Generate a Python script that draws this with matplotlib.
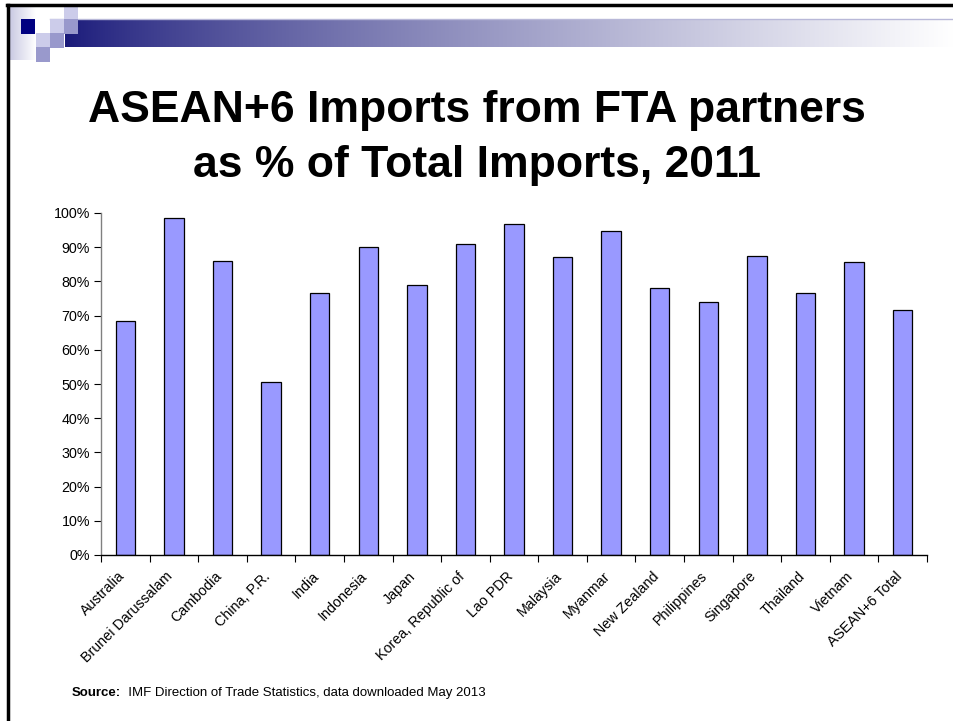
import matplotlib
matplotlib.use("Agg")
import matplotlib.pyplot as plt
import matplotlib.transforms as mtransforms
from matplotlib.patches import Rectangle
from matplotlib.ticker import FixedLocator, PercentFormatter
import numpy as np

plt.rcParams['font.family'] = ['Liberation Sans', 'DejaVu Sans']

countries = ["Australia", "Brunei Darussalam", "Cambodia", "China, P.R.", "India",
             "Indonesia", "Japan", "Korea, Republic of", "Lao PDR", "Malaysia",
             "Myanmar", "New Zealand", "Philippines", "Singapore", "Thailand",
             "Vietnam", "ASEAN+6 Total"]
share = [68.3, 98.5, 86.1, 50.7, 76.5, 90.0, 78.9, 90.9, 96.9, 87.0,
         94.7, 78.0, 74.0, 87.5, 76.5, 85.7, 71.6]

W, H = 954, 721
fig = plt.figure(figsize=(W / 100, H / 100), dpi=100)

# slide decoration in pixel coordinates
deco = fig.add_axes([0, 0, 1, 1])
deco.set_xlim(0, W)
deco.set_ylim(H, 0)
deco.axis("off")

t = np.linspace(0, 1, 400) ** 0.8
navy = np.array([26, 26, 122]) / 255
grad = navy[None, :] * (1 - t[:, None]) + t[:, None]
deco.imshow(grad[None, :, :], extent=(65, W, 47, 19), aspect="auto", zorder=1)
side = np.array([200, 200, 226]) / 255
t2 = np.linspace(0, 1, 100)
grad2 = side[None, :] * (1 - t2[:, None]) + t2[:, None]
deco.imshow(grad2[None, :, :], extent=(9, 36, 60, 6), aspect="auto", zorder=1)
deco.plot([50, W], [18.5, 18.5], color="#b8b8d8", lw=1, zorder=1)

light, mid = "#ccccea", "#9999cc"
squares = [(21, 19, "#000080"), (64, 6, light), (50, 19, light), (64, 19, mid),
           (36, 33, light), (50, 33, mid), (36, 47, mid)]
for x0, y0, c in squares:
    deco.add_patch(Rectangle((x0, y0), 14.5, 14.5, color=c, lw=0, zorder=2))

deco.plot([7, W], [5, 5], color="black", lw=2.5, zorder=3)
deco.plot([8, 8], [5, H], color="black", lw=2.5, zorder=3)

fig.text(477, H - 122, "ASEAN+6 Imports from FTA partners", transform=None,
         ha="center", va="baseline", fontsize=32, fontweight="bold")
fig.text(477, H - 177, "as % of Total Imports, 2011", transform=None,
         ha="center", va="baseline", fontsize=32, fontweight="bold")

ax = fig.add_axes([101 / W, 1 - 555 / H, (927 - 101) / W, (555 - 213) / H])
x = np.arange(len(countries))
ax.bar(x, share, width=0.4, color="#9999ff", edgecolor="black", linewidth=0.9)
ax.set_xlim(-0.5, len(countries) - 0.5)
ax.set_ylim(0, 100)
ax.set_yticks(np.arange(0, 101, 10))
ax.yaxis.set_major_formatter(PercentFormatter(decimals=0))
ax.set_xticks(x)
ax.xaxis.set_minor_locator(FixedLocator(np.arange(-0.5, len(countries), 1)))
ax.tick_params(axis="x", which="major", length=0, pad=8)
ax.tick_params(axis="x", which="minor", length=5, width=0.8, direction="out")
ax.tick_params(axis="y", length=5, width=0.8, labelsize=10.3, pad=3)
ax.set_xticklabels(countries, rotation=45, ha="right", va="top",
                   rotation_mode="anchor", fontsize=10.3)
# shift labels so their ends sit a little left of the bar centre, as in the slide
shift = mtransforms.ScaledTranslation(-8 / 100, -3 / 100, fig.dpi_scale_trans)
for lab in ax.get_xticklabels():
    lab.set_transform(lab.get_transform() + shift)
for s in ("top", "right"):
    ax.spines[s].set_visible(False)
ax.spines["left"].set_color("#808080")
ax.spines["bottom"].set_color("black")
ax.spines["left"].set_linewidth(1)
ax.spines["bottom"].set_linewidth(1)

# source line: bold label followed by plain text on the same baseline
src = fig.text(72, H - 696, "Source:", transform=None, fontsize=9.5,
               fontweight="bold", va="baseline")
fig.canvas.draw()
x2 = src.get_window_extent().x1
fig.text(x2, H - 696, "  IMF Direction of Trade Statistics, data downloaded May 2013",
         transform=None, fontsize=9.5, va="baseline")

fig.savefig("out.png", dpi=100)
